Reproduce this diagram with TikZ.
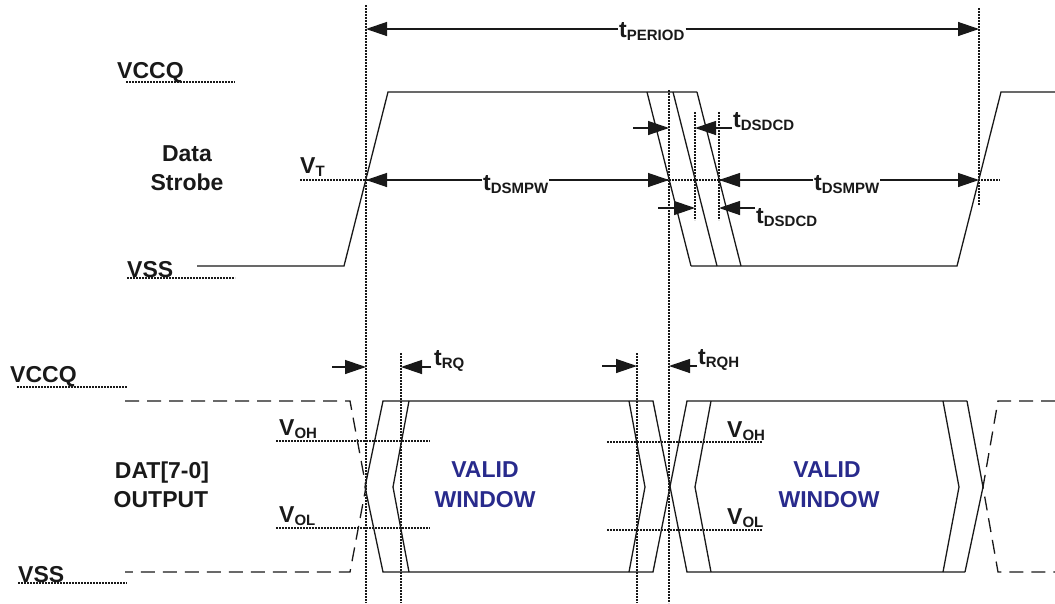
\documentclass[tikz,border=0pt]{standalone}
\usepackage{fontspec}
\setmainfont{Liberation Sans}
\usetikzlibrary{arrows.meta}
\definecolor{validblue}{RGB}{40,42,140}
\definecolor{ink}{RGB}{25,25,25}
\newcommand{\lbl}[2]{{\fontsize{23}{25}\selectfont #1}\raisebox{-3pt}{\fontsize{15}{16}\selectfont #2}}
\begin{document}
\begin{tikzpicture}[x=1pt,y=-1pt,
  sig/.style={line width=1.3pt, line join=miter, draw=ink},
  dotl/.style={line width=1.2pt, dash pattern=on 1.6pt off 1.4pt, draw=ink},
  dashl/.style={line width=1.3pt, dash pattern=on 14pt off 8pt, draw=ink},
  arr/.style={line width=1.3pt, draw=ink, -{Triangle[length=21pt,width=14pt]}},
  lab/.style={font=\bfseries\fontsize{23}{28}\selectfont, inner sep=0pt, text=ink},
  tl/.style={font=\bfseries, inner sep=0pt, anchor=base west, text=ink},
]
\useasboundingbox (0,0) rectangle (1055,603);

% ---------- dotted reference lines ----------
\draw[dotl] (366,5) -- (366,603);
\draw[dotl] (669,90) -- (669,603);
\draw[dotl] (979,8) -- (979,205);
\draw[dotl] (695,112) -- (695,220);
\draw[dotl] (719,112) -- (719,220);
\draw[dotl] (401,353) -- (401,603);
\draw[dotl] (637,353) -- (637,603);

\draw[dotl] (126,82) -- (235,82);
\draw[dotl] (127,278) -- (235,278);
\draw[dotl] (300,180) -- (1000,180);
\draw[dotl] (17,387) -- (127,387);
\draw[dotl] (18,583) -- (127,583);
\draw[dotl] (276,441) -- (430,441);
\draw[dotl] (276,528) -- (430,528);
\draw[dotl] (607,442) -- (762,442);
\draw[dotl] (607,530) -- (762,530);

% ---------- Data strobe ----------
\draw[sig] (197,266) -- (344,266) -- (388,92) -- (697,92);
\draw[sig] (647,92) -- (691,266);
\draw[sig] (673,92) -- (717,266);
\draw[sig] (697,92) -- (741,266);
\draw[sig] (691,266) -- (957,266) -- (1001,92) -- (1055,92);

% ---------- DAT output ----------
\draw[dashl] (125,401) -- (350,401) -- (366,487) -- (350,572) -- (125,572);
\draw[dashl] (1055,401) -- (998,401) -- (983,487) -- (998,572) -- (1055,572);
\draw[sig] (365,487) -- (383,401) -- (653,401) -- (687,572) -- (965,572);
\draw[sig] (365,487) -- (383,572) -- (653,572) -- (687,401) -- (967,401);
\draw[sig] (409,401) -- (393,487) -- (409,572);
\draw[sig] (629,401) -- (645,487) -- (629,572);
\draw[sig] (711,401) -- (695,487) -- (711,572);
\draw[sig] (943,401) -- (959,487) -- (943,572);
\draw[sig] (967,401) -- (983,487) -- (965,572);

% ---------- level labels ----------
\node[lab, anchor=base west] (vccqA) at (117,78) {VCCQ};
\node[lab, anchor=base west] (vssA) at (127,277) {VSS};
\node[lab, anchor=base west] (vccqB) at (10,382) {VCCQ};
\node[lab, anchor=base west] (vssB) at (18,582) {VSS};
\node[lab, anchor=base] (ds1) at (187,161.5) {Data};
\node[lab, anchor=base] (ds2) at (187,190) {Strobe};
\node[lab, anchor=base] (dat1) at (162,478) {DAT[7-0]};
\node[lab, anchor=base] (dat2) at (161,507) {OUTPUT};
\node[lab, anchor=base, text=validblue] (va1) at (485,477) {VALID};
\node[lab, anchor=base, text=validblue] (vw1) at (485,507) {WINDOW};
\node[lab, anchor=base, text=validblue] (va2) at (827,477) {VALID};
\node[lab, anchor=base, text=validblue] (vw2) at (829,507) {WINDOW};

\node[tl] (vt) at (300,173) {\lbl{V}{T}};
\node[tl] (voh1) at (279,435) {\lbl{V}{OH}};
\node[tl] (vol1) at (279,522) {\lbl{V}{OL}};
\node[tl] (voh2) at (727,437) {\lbl{V}{OH}};
\node[tl] (vol2) at (727,524) {\lbl{V}{OL}};

% ---------- timing arrows ----------
\coordinate (pA) at (366,29);
\coordinate (pB) at (979,29);
\node[tl, fill=white, inner xsep=1pt] (tper) at (618,37) {\lbl{t}{PERIOD}};
\draw[arr] (tper.west |- pA) -- (pA);
\draw[arr] (tper.east |- pB) -- (pB);

\coordinate (wA) at (366,180);
\coordinate (wB) at (669,180);
\coordinate (wC) at (719,180);
\coordinate (wD) at (979,180);
\node[tl, fill=white, inner xsep=1pt] (dsmpw1) at (482,190) {\lbl{t}{DSMPW}};
\node[tl, fill=white, inner xsep=1pt] (dsmpw2) at (813,190) {\lbl{t}{DSMPW}};
\draw[arr] (dsmpw1.west |- wA) -- (wA);
\draw[arr] (dsmpw1.east |- wB) -- (wB);
\draw[arr] (dsmpw2.west |- wC) -- (wC);
\draw[arr] (dsmpw2.east |- wD) -- (wD);

% tDSDCD
\coordinate (d1s) at (633,128); \coordinate (d1e) at (669,128);
\coordinate (d2s) at (732,128); \coordinate (d2e) at (695,128);
\coordinate (d3s) at (658,208); \coordinate (d3e) at (695,208);
\coordinate (d4s) at (755,208); \coordinate (d4e) at (719,208);
\draw[arr] (d1s) -- (d1e);
\draw[arr] (d2s) -- (d2e);
\draw[arr] (d3s) -- (d3e);
\draw[arr] (d4s) -- (d4e);
\node[tl] (dcd1) at (733,127) {\lbl{t}{DSDCD}};
\node[tl] (dcd2) at (756,223) {\lbl{t}{DSDCD}};

% tRQ / tRQH
\coordinate (q1s) at (332,367); \coordinate (q1e) at (366,367);
\coordinate (q2s) at (431,367); \coordinate (q2e) at (401,367);
\coordinate (h1s) at (602,366); \coordinate (h1e) at (637,366);
\coordinate (h2s) at (697,366); \coordinate (h2e) at (669,366);
\draw[arr] (q1s) -- (q1e);
\draw[arr] (q2s) -- (q2e);
\draw[arr] (h1s) -- (h1e);
\draw[arr] (h2s) -- (h2e);
\node[tl] (trq) at (434,365) {\lbl{t}{RQ}};
\node[tl] (trqh) at (698,364) {\lbl{t}{RQH}};
\end{tikzpicture}
\end{document}
